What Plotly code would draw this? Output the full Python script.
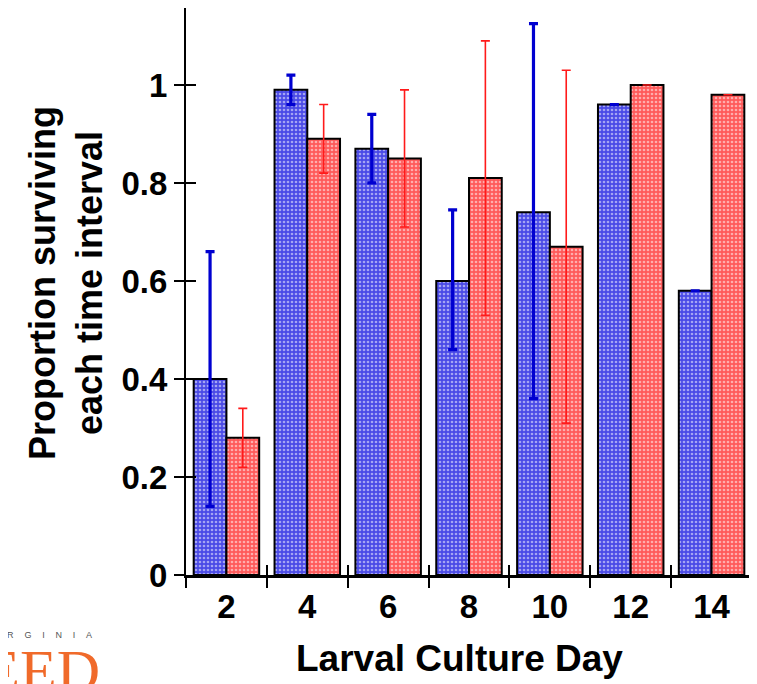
import plotly.graph_objects as go

days = ["2", "4", "6", "8", "10", "12", "14"]
blue_vals = [0.40, 0.99, 0.87, 0.60, 0.74, 0.96, 0.58]
blue_err_up = [0.26, 0.03, 0.07, 0.145, 0.385, None, None]
blue_err_down = [0.26, 0.03, 0.07, 0.14, 0.38, None, None]
red_vals = [0.28, 0.89, 0.85, 0.81, 0.67, 1.00, 0.98]
red_err_up = [0.06, 0.07, 0.14, 0.28, 0.36, None, None]
red_err_down = [0.06, 0.07, 0.14, 0.28, 0.36, None, None]
y_ticks = [0, 0.2, 0.4, 0.6, 0.8, 1]
y_tick_text = ["0", "0.2", "0.4", "0.6", "0.8", "1"]

FONT = "Liberation Sans, Arial, sans-serif"

fig = go.Figure()
fig.add_trace(go.Bar(
    x=days, y=blue_vals, name="A",
    marker=dict(color="#4a4ae6", line=dict(color="black", width=2),
                pattern=dict(shape=".", fgcolor="white", size=4, solidity=0.35, fillmode="overlay")),
    error_y=dict(type="data", symmetric=False, array=blue_err_up, arrayminus=blue_err_down,
                 color="#0000d0", thickness=3.2, width=4.5),
))
fig.add_trace(go.Bar(
    x=days, y=red_vals, name="B",
    marker=dict(color="#ff5a5a", line=dict(color="black", width=2),
                pattern=dict(shape=".", fgcolor="white", size=4, solidity=0.35, fillmode="overlay")),
    error_y=dict(type="data", symmetric=False, array=red_err_up, arrayminus=red_err_down,
                 color="#ff1a1a", thickness=1.6, width=4.5),
))
# invisible helper trace for the overlay axes (inner half of the crossing ticks)
fig.add_trace(go.Scatter(x=days, y=blue_vals, mode="markers", marker=dict(opacity=0),
                         xaxis="x2", yaxis="y2", hoverinfo="skip", showlegend=False))

# page has an 8px body margin: figure is 8px smaller and everything is shifted accordingly
fig.update_layout(
    width=749, height=676,
    margin=dict(l=178, r=5, t=0, b=109),
    paper_bgcolor="white", plot_bgcolor="white",
    showlegend=False,
    barmode="group", bargap=0.19, bargroupgap=0,
    font=dict(family=FONT, color="black"),
    xaxis=dict(type="category", categoryarray=days, range=[-0.5, 6.5],
               showline=True, linecolor="black", linewidth=3,
               ticks="outside", ticklen=10, tickwidth=1.5, tickcolor="black",
               tickson="boundaries", showgrid=False, zeroline=False,
               tickfont=dict(size=33, family=FONT, color="black", weight="bold")),
    yaxis=dict(range=[0, 1.157], tickvals=y_ticks, ticktext=y_tick_text,
               showline=True, linecolor="black", linewidth=2,
               ticks="outside", ticklen=10, tickwidth=1.5, tickcolor="black",
               showgrid=False, zeroline=False,
               tickfont=dict(size=33, family=FONT, color="black", weight="bold")),
    xaxis2=dict(type="category", categoryarray=days, range=[-0.5, 6.5], overlaying="x",
                anchor="y2", side="bottom", ticks="inside", ticklen=10, tickwidth=1.5,
                tickcolor="black", tickson="boundaries", showticklabels=False,
                showgrid=False, zeroline=False, showline=False),
    yaxis2=dict(range=[0, 1.157], tickvals=y_ticks, overlaying="y", anchor="x2", side="left",
                ticks="inside", ticklen=10, tickwidth=1.5, tickcolor="black",
                showticklabels=False, showgrid=False, zeroline=False, showline=False),
)

fig.add_annotation(text="<b>Proportion surviving<br>each time interval</b>",
                   xref="paper", yref="paper", x=-0.212, y=0.515, textangle=-90,
                   showarrow=False, font=dict(size=36, family=FONT, color="black"),
                   xanchor="center", yanchor="middle")
fig.add_annotation(text="<b>Larval Culture Day</b>",
                   xref="paper", yref="paper", x=0.484, y=-0.148,
                   showarrow=False, font=dict(size=37, family=FONT, color="black"),
                   xanchor="center", yanchor="middle")
# logo text, partly cut off by the page edges
fig.add_annotation(text="V\u2003\u2009I\u2003\u2009R\u2003\u2009G\u2003\u2009I\u2003\u2009N\u2003\u2009I\u2003\u2009A",
                   xref="paper", yref="paper", x=(94 - 186) / 566, y=(575 - 635) / 567,
                   showarrow=False, font=dict(size=9, family=FONT, color="#555555"),
                   xanchor="right", yanchor="middle")
fig.add_annotation(text="SEED",
                   xref="paper", yref="paper", x=(102 - 186) / 566, y=(575 - 636) / 567,
                   showarrow=False, font=dict(size=60, family="Liberation Serif, serif", color="#f06a2a"),
                   xanchor="right", yanchor="top")

fig.write_html("out.html")
